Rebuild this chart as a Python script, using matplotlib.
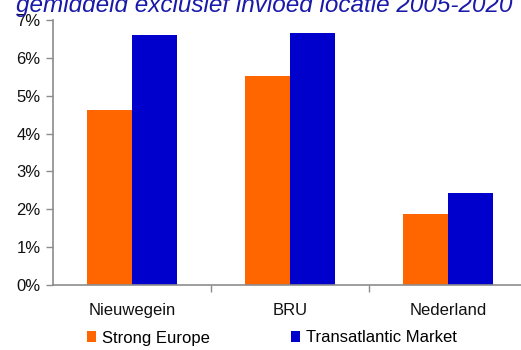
import matplotlib
matplotlib.use("Agg")
import matplotlib.pyplot as plt
from matplotlib.patches import Patch
import numpy as np

plt.rcParams['font.family'] = ['Liberation Sans', 'DejaVu Sans']

categories = ["Nieuwegein", "BRU", "Nederland"]
strong_europe = [4.62, 5.53, 1.87]
transatlantic = [6.61, 6.65, 2.42]
series_names = ["Strong Europe", "Transatlantic Market"]
yticks = [0, 1, 2, 3, 4, 5, 6, 7]
title = "gemiddeld exclusief invloed locatie 2005-2020"

ORANGE = "#FF6600"
BLUE = "#0000CC"
GREY = "#8C8C8C"

W, H = 521, 350
fig = plt.figure(figsize=(W / 100, H / 100), dpi=100)
ax = fig.add_axes([53 / W, 65 / H, 474 / W, 265 / H])

x = np.arange(len(categories))
bw = 0.285
ax.bar(x - bw / 2, strong_europe, width=bw, color=ORANGE, edgecolor="none")
ax.bar(x + bw / 2, transatlantic, width=bw, color=BLUE, edgecolor="none")

ax.set_xlim(-0.5, len(categories) - 0.5)
ax.set_ylim(0, 7)
ax.set_yticks(yticks)
ax.set_yticklabels([f"{v}%" for v in yticks])
ax.set_xticks(x)
ax.set_xticklabels(categories)
ax.set_xticks(np.arange(0.5, len(categories) - 0.5, 1), minor=True)

for s in ("top", "right"):
    ax.spines[s].set_visible(False)
for s in ("left", "bottom"):
    ax.spines[s].set_color(GREY)
    ax.spines[s].set_linewidth(1.2)

ax.tick_params(axis="y", direction="out", length=5, width=1, color=GREY,
               labelsize=12, pad=4, labelcolor="#111111")
ax.tick_params(axis="x", which="major", length=0, labelsize=12, pad=13,
               labelcolor="#111111")
ax.tick_params(axis="x", which="minor", direction="out", length=5, width=1,
               color=GREY)

handles = [Patch(facecolor=ORANGE, edgecolor="none"),
           Patch(facecolor=BLUE, edgecolor="none")]
fig.legend(handles, series_names, loc="center left",
           bbox_to_anchor=(75 / W, 12 / H), ncol=2, frameon=False,
           fontsize=12, handlelength=0.55, handleheight=0.65,
           handletextpad=0.35, columnspacing=4.9, borderpad=0.2)

fig.text(513 / W, 1 - 12 / H, title, ha="right", va="baseline",
         fontsize=17.5, style="italic", color="#1A1AAA")

fig.savefig("out.png", dpi=100)
